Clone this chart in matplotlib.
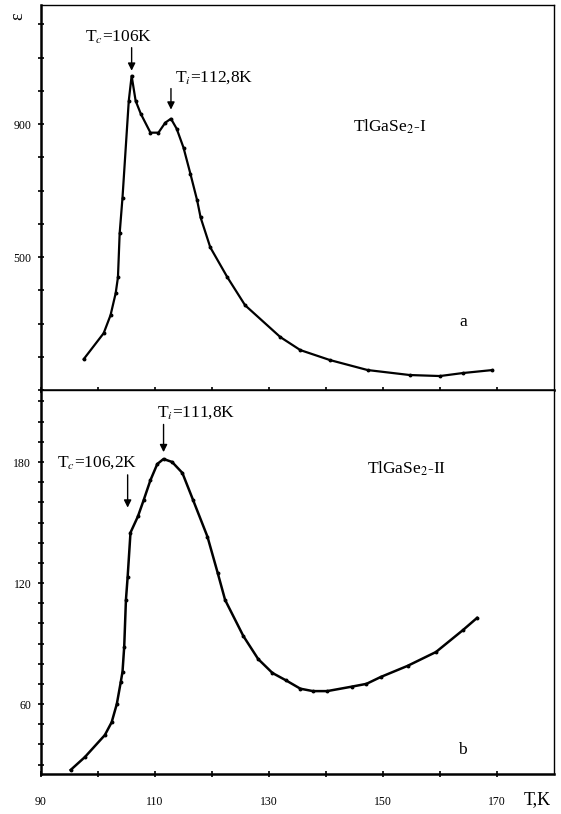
import numpy as np
import matplotlib
matplotlib.use("Agg")
import matplotlib.pyplot as plt

# ==============================
# DATA
# ==============================
# panel a: TlGaSe2-I
t_a = [97.5, 101.0, 102.2, 103.1, 103.5, 103.8, 104.3, 105.4, 105.9, 106.6,
       107.5, 109.2, 110.6, 111.8, 112.8, 113.8, 115.0, 116.2, 117.4, 118.0,
       119.7, 122.7, 125.8, 132.0, 135.5, 140.7, 147.3, 154.7, 160.0, 164.0, 169.2]
eps_a = [193, 271, 325, 391, 439, 571, 679, 970, 1045, 970,
         931, 874, 874, 904, 916, 886, 829, 751, 670, 619,
         529, 439, 355, 259, 220, 190, 160, 145, 142, 151, 160]

# panel b: TlGaSe2-II
t_b = [95.2, 97.7, 101.2, 102.4, 103.3, 104.0, 104.3, 104.6, 104.9, 105.2,
       105.7, 107.0, 108.0, 109.2, 110.4, 111.5, 113.0, 114.8, 116.7, 119.2,
       121.0, 122.3, 125.5, 128.1, 130.6, 133.0, 135.5, 137.7, 140.2, 144.5,
       147.1, 149.6, 154.3, 159.3, 164.0, 166.5]
eps_b = [27.3, 33.7, 44.6, 51.0, 60.0, 71.0, 76.0, 88.5, 111.6, 123.0,
         145.0, 153.0, 161.0, 171.0, 179.0, 181.5, 180.0, 174.6, 161.0, 143.0,
         125.0, 111.6, 93.7, 82.3, 75.4, 71.7, 67.6, 66.4, 66.4, 68.6,
         70.0, 73.4, 78.9, 85.8, 96.6, 102.7]

x_labels = [90, 110, 130, 150, 170]
ya_labels = [500, 900]
yb_labels = [60, 120, 180]

# ==============================
# FIGURE
# ==============================
plt.rcParams["font.family"] = ["Liberation Serif", "DejaVu Serif"]
plt.rcParams["mathtext.fontset"] = "stix"

fig = plt.figure(figsize=(5.61, 8.14), dpi=100)
W, H = 561.0, 814.0
ax_a = fig.add_axes([41 / W, 1 - 390 / H, 513 / W, 385 / H])
ax_b = fig.add_axes([41 / W, 1 - 774 / H, 513 / W, 384 / H])


def style_axes(ax, ymin, ymax, ystep, ylabels, show_x):
    ax.set_xlim(90, 180)
    ax.set_ylim(ymin, ymax)
    ax.set_xticks(np.arange(90, 171, 10))
    ax.set_xticklabels([str(v) if (v in x_labels and show_x) else "" for v in range(90, 171, 10)])
    yt = np.arange(ystep * np.ceil(ymin / ystep), ymax, ystep)
    ax.set_yticks(yt)
    ax.set_yticklabels([str(int(v)) if int(v) in ylabels else "" for v in yt])
    ax.tick_params(direction="inout", length=4, width=1.2, labelsize=8.5)
    ax.tick_params(axis="y", pad=5)
    ax.tick_params(axis="x", pad=14)
    for s in ["left", "bottom"]:
        ax.spines[s].set_linewidth(1.8)
    for s in ["top", "right"]:
        ax.spines[s].set_linewidth(1.0)


style_axes(ax_a, 100, 1258, 100, ya_labels, False)
style_axes(ax_b, 25.3, 215.7, 10, yb_labels, True)

ax_a.plot(t_a, eps_a, color="black", lw=1.6, marker="o", ms=1.8)
ax_b.plot(t_b, eps_b, color="black", lw=1.8, marker="o", ms=1.8)

# annotations: arrows and labels drawn separately
arrow = dict(arrowstyle="-|>", color="black", lw=1.0, mutation_scale=11)
fs = 12.5

ax_a.annotate("", xy=(105.9, 1052), xytext=(105.9, 1138), arrowprops=arrow)
ax_a.text(103.6, 1162, "T$_c$=106K", fontsize=fs, ha="center", va="center")
ax_a.annotate("", xy=(112.8, 935), xytext=(112.8, 1015), arrowprops=arrow)
ax_a.text(113.5, 1040, "T$_i$=112,8K", fontsize=fs, ha="left", va="center")
ax_a.text(144.7, 893, "TlGaSe$_2$-I", fontsize=fs, ha="left", va="center")
ax_a.text(164, 304, "a", fontsize=fs, ha="center", va="center")

ax_b.annotate("", xy=(111.5, 183.5), xytext=(111.5, 200), arrowprops=arrow)
ax_b.text(110.3, 204.5, "T$_i$=111,8K", fontsize=fs, ha="left", va="center")
ax_b.annotate("", xy=(105.2, 156), xytext=(105.2, 175), arrowprops=arrow)
ax_b.text(92.8, 179.5, "T$_c$=106,2K", fontsize=fs, ha="left", va="center")
ax_b.text(147.2, 176.6, "TlGaSe$_2$-II", fontsize=fs, ha="left", va="center")
ax_b.text(164, 37, "b", fontsize=fs, ha="center", va="center")

fig.text(18 / W, 1 - 16 / H, "ε", fontsize=13, ha="center", va="center", rotation=90)
fig.text(537 / W, 1 - 800 / H, "T,K", fontsize=13, ha="center", va="center")

fig.savefig("out.png", dpi=100)
plt.close(fig)
